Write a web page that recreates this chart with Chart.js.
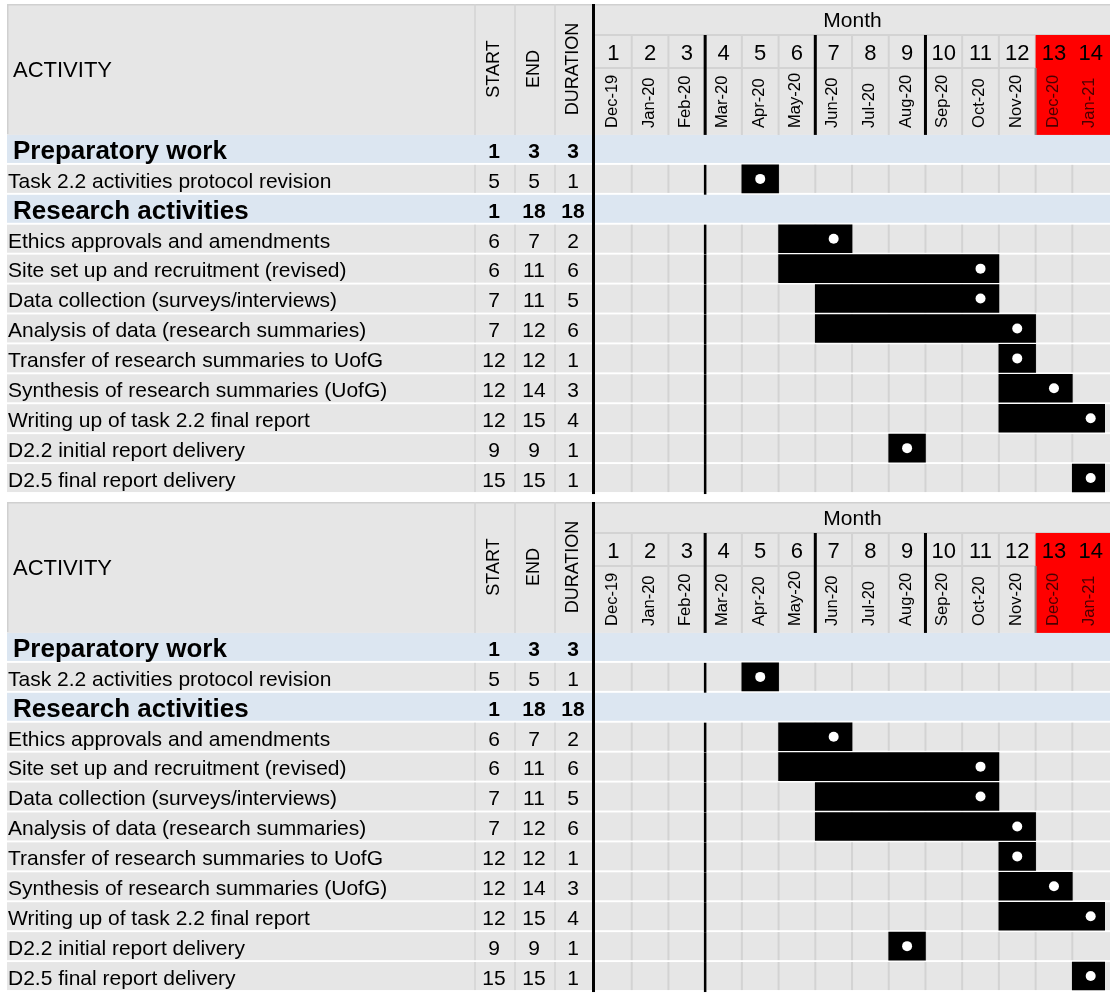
<!DOCTYPE html>
<html>
<head>
<meta charset="utf-8">
<script src="https://cdn.jsdelivr.net/npm/chart.js@4.4.0/dist/chart.umd.min.js"></script>
<style>
  html, body { margin: 0; padding: 0; background: #fff; overflow: hidden; }
  canvas { display: block; }
</style>
</head>
<body>
<canvas id="gantt-a" width="1110" height="498"></canvas>
<canvas id="gantt-b" width="1110" height="498"></canvas>
<script>
const activities = [
  'Preparatory work', 'Task 2.2 activities protocol revision', 'Research activities',
  'Ethics approvals and amendments', 'Site set up and recruitment (revised)',
  'Data collection (surveys/interviews)', 'Analysis of data (research summaries)',
  'Transfer of research summaries to UofG', 'Synthesis of research summaries (UofG)',
  'Writing up of task 2.2 final report', 'D2.2 initial report delivery', 'D2.5 final report delivery'
];
const groupRows = [true, false, true, false, false, false, false, false, false, false, false, false];
const startMonth = [1, 5, 1, 6, 6, 7, 7, 12, 12, 12, 9, 15];
const endMonth = [3, 5, 18, 7, 11, 11, 12, 12, 14, 15, 9, 15];
const duration = [3, 1, 18, 2, 6, 5, 6, 1, 3, 4, 1, 1];
// bars as they appear on the month grid (column numbers)
const barFrom = [null, 5, null, 6, 6, 7, 7, 12, 12, 12, 9, 14];
const barTo = [null, 5, null, 7, 11, 11, 12, 12, 13, 14, 9, 14];
const markerCol = [null, 5, null, 7, 11, 11, 12, 12, 13, 14, 9, 14];
const monthNums = ['1', '2', '3', '4', '5', '6', '7', '8', '9', '10', '11', '12', '13', '14'];
const monthDates = ['Dec-19', 'Jan-20', 'Feb-20', 'Mar-20', 'Apr-20', 'May-20', 'Jun-20',
  'Jul-20', 'Aug-20', 'Sep-20', 'Oct-20', 'Nov-20', 'Dec-20', 'Jan-21'];
const redMonths = [13, 14];

const FONT = '"Liberation Sans", Arial, sans-serif';
const GRAY = '#e6e6e6', BLUE = '#dce6f1', LINE = '#d3d3d3', RED = '#ff0000';
const LEFT = 7, TOP = 4, ROW1 = 35, ROW2 = 68;
const COL_LINES = [475, 515, 555];
const COL_MID = [495, 535, 574];
const THICK = [3, 6, 9];

function drawSheet(chart) {
  const { ctx, scales: { x, y } } = chart;
  const W = chart.width;
  const cx = k => x.getPixelForValue(k);
  const HB = y.getPixelForValue(0) - 15;
  const last = y.getPixelForValue(activities.length - 1) + 16;
  ctx.save();
  ctx.fillStyle = '#fff';
  ctx.fillRect(0, 0, W, chart.height);
  // header block
  ctx.fillStyle = GRAY;
  ctx.fillRect(LEFT, TOP, W - LEFT, HB - TOP + 1);
  ctx.fillStyle = '#d0d0d0';
  ctx.fillRect(LEFT, TOP, W - LEFT, 1.5);
  ctx.fillRect(LEFT, TOP, 1.5, HB - TOP);
  ctx.fillStyle = LINE;
  ctx.fillRect(cx(0), ROW1 - 1, W - cx(0), 2);
  ctx.fillRect(cx(0), ROW2 - 1, W - cx(0), 2);
  COL_LINES.forEach(lx => ctx.fillRect(lx - 0.75, TOP, 1.5, HB - TOP + 1));
  for (let k = 1; k < 14; k++) ctx.fillRect(cx(k) - 1, ROW1, 2, HB - ROW1 + 1);
  ctx.fillStyle = RED;
  redMonths.forEach(m => ctx.fillRect(cx(m - 1), ROW1, cx(m) - cx(m - 1) + 1, HB - ROW1 + 1));
  ctx.fillStyle = '#8a8a8a';
  ctx.fillRect(cx(redMonths[0] - 1) - 1, ROW2, 2, HB - ROW2 + 1);
  ctx.fillStyle = '#000';
  THICK.forEach(k => ctx.fillRect(cx(k) - 1.5, ROW1, 3, HB - ROW1 + 1));
  // body rows
  activities.forEach((a, i) => {
    const c = y.getPixelForValue(i);
    const top = c - 14;
    ctx.fillStyle = groupRows[i] ? BLUE : GRAY;
    ctx.fillRect(LEFT, top, W - LEFT, 28);
    if (!groupRows[i]) {
      ctx.fillStyle = LINE;
      COL_LINES.forEach(lx => ctx.fillRect(lx - 0.75, top, 1.5, 28));
      for (let k = 1; k < 14; k++) ctx.fillRect(cx(k) - 1, top, 2, 28);
      ctx.fillStyle = '#000';
      ctx.fillRect(cx(THICK[0]) - 1.25, top, 2.5, 30);
    }
  });
  ctx.fillStyle = '#000';
  ctx.fillRect(cx(0) - 3, TOP, 3, last - TOP);
  ctx.restore();
}

function drawTexts(chart) {
  const { ctx, scales: { x, y } } = chart;
  const W = chart.width;
  const cx = k => x.getPixelForValue(k);
  const HB = y.getPixelForValue(0) - 15;
  ctx.save();
  ctx.fillStyle = '#000';
  ctx.textBaseline = 'middle';
  ctx.font = '22px ' + FONT;
  ctx.textAlign = 'left';
  ctx.fillText('ACTIVITY', 13, 71);
  ctx.font = '21px ' + FONT;
  ctx.textAlign = 'center';
  ctx.fillText('Month', (cx(0) + W) / 2, 21);
  ['START', 'END', 'DURATION'].forEach((t, j) => {
    ctx.save();
    ctx.translate(COL_MID[j] - 1, (TOP + HB) / 2);
    ctx.rotate(-Math.PI / 2);
    ctx.font = '18px ' + FONT;
    ctx.textAlign = 'center';
    ctx.fillText(t, 0, 0);
    ctx.restore();
  });
  monthNums.forEach((n, k) => {
    ctx.font = '22px ' + FONT;
    ctx.textAlign = 'center';
    ctx.fillStyle = '#000';
    ctx.fillText(n, (cx(k) + cx(k + 1)) / 2, 54);
  });
  monthDates.forEach((d, k) => {
    ctx.save();
    ctx.translate((cx(k) + cx(k + 1)) / 2 - 1, HB - 6);
    ctx.rotate(-Math.PI / 2);
    ctx.font = '16.5px ' + FONT;
    ctx.textAlign = 'left';
    ctx.fillStyle = redMonths.includes(k + 1) ? '#4a0000' : '#000';
    ctx.fillText(d, 0, 0);
    ctx.restore();
  });
  activities.forEach((a, i) => {
    const c = y.getPixelForValue(i) + 3;
    const b = groupRows[i];
    ctx.fillStyle = '#000';
    ctx.textAlign = 'left';
    ctx.font = (b ? 'bold 26px ' : '21px ') + FONT;
    ctx.fillText(a, b ? 13 : 8, c);
    ctx.textAlign = 'center';
    ctx.font = (b ? 'bold 21px ' : '21px ') + FONT;
    [startMonth[i], endMonth[i], duration[i]].forEach((v, j) => ctx.fillText(String(v), COL_MID[j] - 1, c));
  });
  ctx.restore();
}

const sheetPlugin = { id: 'sheet', beforeDraw: drawSheet, afterDatasetsDraw: drawTexts };

function buildGantt(id) {
  const ctx = document.getElementById(id).getContext('2d');
  new Chart(ctx, {
    type: 'bar',
    data: {
      labels: activities,
      datasets: [
        { type: 'bar', label: 'Activity', data: barFrom.map((f, i) => f == null ? null : [f - 1, barTo[i]]),
          backgroundColor: '#000', borderWidth: 0, borderSkipped: false, barThickness: 28, order: 2 },
        { type: 'scatter', label: 'End', data: markerCol.map((m, i) => m == null ? null : { x: m - 0.5, y: activities[i] }).filter(p => p),
          pointRadius: 5, pointBackgroundColor: '#fff', pointBorderWidth: 0, pointHoverRadius: 5, order: 1 }
      ]
    },
    options: {
      indexAxis: 'y', responsive: false, animation: false, devicePixelRatio: 1,
      layout: { padding: { left: 595, top: 134, right: 0, bottom: 4 } },
      plugins: { legend: { display: false }, tooltip: { enabled: false } },
      scales: {
        x: { type: 'linear', min: 0, max: 13.89, display: false },
        y: { type: 'category', display: false, offset: true }
      }
    },
    plugins: [sheetPlugin]
  });
}

buildGantt('gantt-a');
buildGantt('gantt-b');
</script>
</body>
</html>
